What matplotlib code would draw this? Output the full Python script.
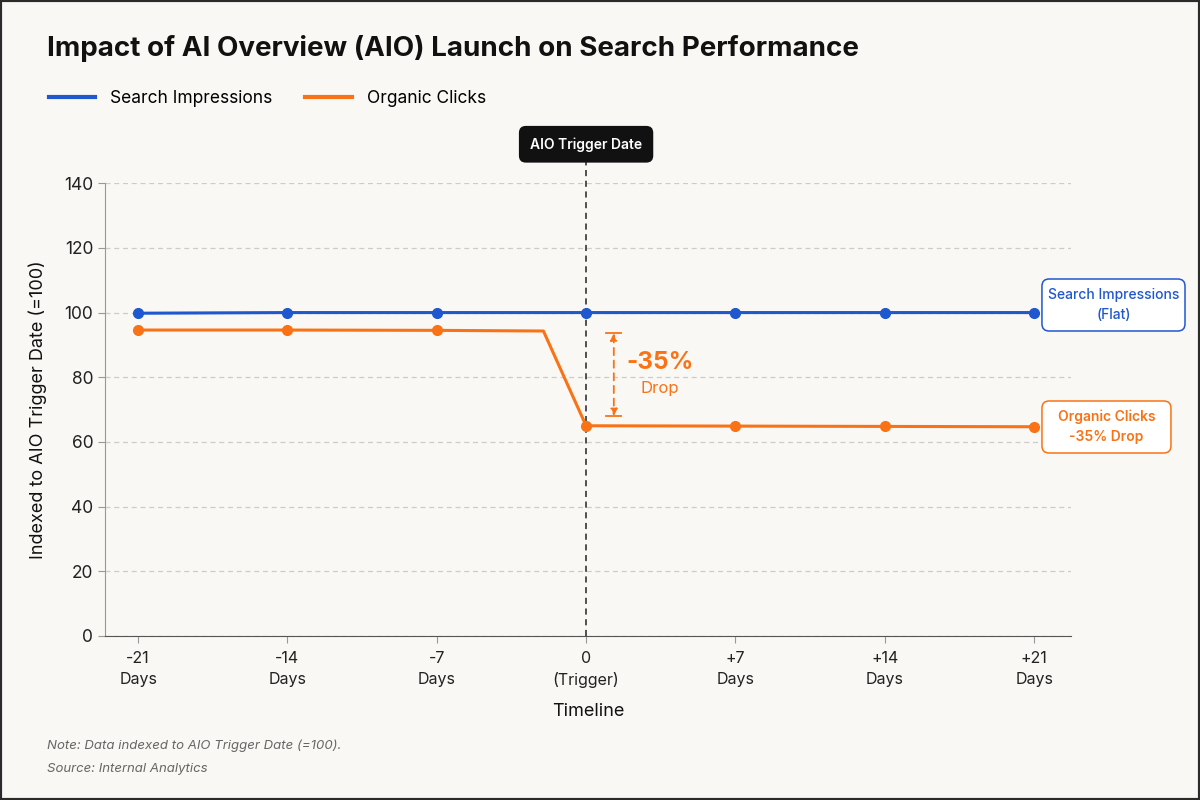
import numpy as np
import matplotlib.pyplot as plt
from matplotlib.patches import Rectangle, FancyBboxPatch

plt.rcParams['font.family'] = ['Inter', 'DejaVu Sans']

# data
days = [-21, -14, -7, 0, 7, 14, 21]
tick_labels = ['-21\nDays', '-14\nDays', '-7\nDays', '0\n(Trigger)', '+7\nDays', '+14\nDays', '+21\nDays']
impressions = [99.8, 100, 100, 100, 100, 100, 100]
click_days = [-21, -14, -7, -2, 0, 7, 14, 21]
clicks = [94.6, 94.6, 94.5, 94.3, 65, 64.9, 64.8, 64.7]
click_marks = [0, 1, 2, 4, 5, 6, 7]   # no dot on the -2 day bend
drop_top, drop_bottom = 93.6, 68.0

blue = '#1f57cf'
orange = '#f97316'
bg = '#faf8f4'

fig = plt.figure(figsize=(12, 8), dpi=100, facecolor=bg)
ax = fig.add_axes([0.0875, 0.205, 0.805, 0.566])
ax.set_facecolor(bg)

ax.plot(days, impressions, color=blue, lw=2.2, marker='o', ms=7, label='Search Impressions', zorder=4)
ax.plot(click_days, clicks, color=orange, lw=2.2, marker='o', ms=7, markevery=click_marks,
        label='Organic Clicks', zorder=4)

ax.set_xlim(-22.55, 22.73)
ax.set_ylim(0, 140)
ax.set_yticks(np.arange(0, 141, 20))
ax.set_xticks(days)
ax.set_xticklabels(tick_labels, fontsize=11.5, color='#222222', linespacing=1.45)
ax.tick_params(axis='y', labelsize=12.5, colors='#222222', length=5, color='#999999')
ax.tick_params(axis='x', length=5, color='#999999', pad=6)
ax.grid(axis='y', ls=(0, (4, 3)), color='#cccccc', lw=0.9)
for s in ['top', 'right']:
    ax.spines[s].set_visible(False)
ax.spines['left'].set_color('#999999')
ax.spines['bottom'].set_color('#555555')

ax.set_ylabel('Indexed to AIO Trigger Date (=100)', fontsize=13, color='#111111', labelpad=12)
ax.set_xlabel('Timeline', fontsize=13, color='#111111', labelpad=11)

# trigger line + label
ax.plot([0, 0], [0, 1.05], transform=ax.get_xaxis_transform(), color='#222222', lw=1.1,
        ls=(0, (4, 3)), clip_on=False, zorder=3)
ax.text(0, 1.086, 'AIO Trigger Date', transform=ax.get_xaxis_transform(), ha='center', va='center',
        color='white', fontsize=10, fontweight='semibold',
        bbox=dict(boxstyle='round,pad=0.8,rounding_size=0.5', fc='#111111', ec='none'))

# drop annotation
ax.annotate('', xy=(1.3, drop_bottom), xytext=(1.3, drop_top),
            arrowprops=dict(arrowstyle='<|-|>', color=orange, lw=1.3, ls=(0, (4, 3)),
                            mutation_scale=10, shrinkA=0, shrinkB=0))
ax.plot([0.95, 1.65], [drop_top, drop_top], color=orange, lw=1.3)
ax.plot([0.95, 1.65], [drop_bottom, drop_bottom], color=orange, lw=1.3)
ax.text(3.45, 84.7, '-35%', color=orange, fontsize=17.5, fontweight='bold', ha='center', va='center')
ax.text(3.45, 76.6, 'Drop', color=orange, fontsize=12, ha='center', va='center')

# end labels (boxes sized like the reference)
end_boxes = [
    ((0.8683, 0.58625, 0.1192, 0.065), 'Search Impressions\n(Flat)', blue, 'medium'),
    ((0.8683, 0.43375, 0.1075, 0.065), 'Organic Clicks\n-35% Drop', orange, 'semibold'),
]
for (x0, y0, w, h), txt, col, wt in end_boxes:
    fig.patches.append(FancyBboxPatch((x0, y0), w, h, boxstyle='round,pad=0,rounding_size=0.006',
                                      mutation_aspect=1.5, transform=fig.transFigure,
                                      fc='white', ec=col, lw=1.1, zorder=6))
    fig.text(x0 + w / 2, y0 + h / 2, txt, ha='center', va='center', multialignment='center',
             color=col, fontsize=10, fontweight=wt, linespacing=1.55, zorder=7)

# title, legend, notes
fig.text(0.039, 0.94, 'Impact of AI Overview (AIO) Launch on Search Performance',
         fontsize=20, fontweight='bold', color='#111111', va='center')
fig.legend(loc='center left', bbox_to_anchor=(0.0275, 0.877), ncol=2, frameon=False,
           handlelength=2.65, columnspacing=1.9, handletextpad=0.9, prop={'size': 12.5})
for h in fig.legends[0].get_lines():
    h.set_marker('')
    h.set_linewidth(3)

fig.text(0.039, 0.0675, 'Note: Data indexed to AIO Trigger Date (=100).', fontsize=9.5,
         style='italic', color='#666666', va='center')
fig.text(0.039, 0.039, 'Source: Internal Analytics', fontsize=9.5, style='italic', color='#666666', va='center')

fig.patches.append(Rectangle((0, 0), 1, 1, transform=fig.transFigure, fill=False,
                             ec='#2b2b2b', lw=3, zorder=10))

fig.savefig('out.png', dpi=100, facecolor=bg)
